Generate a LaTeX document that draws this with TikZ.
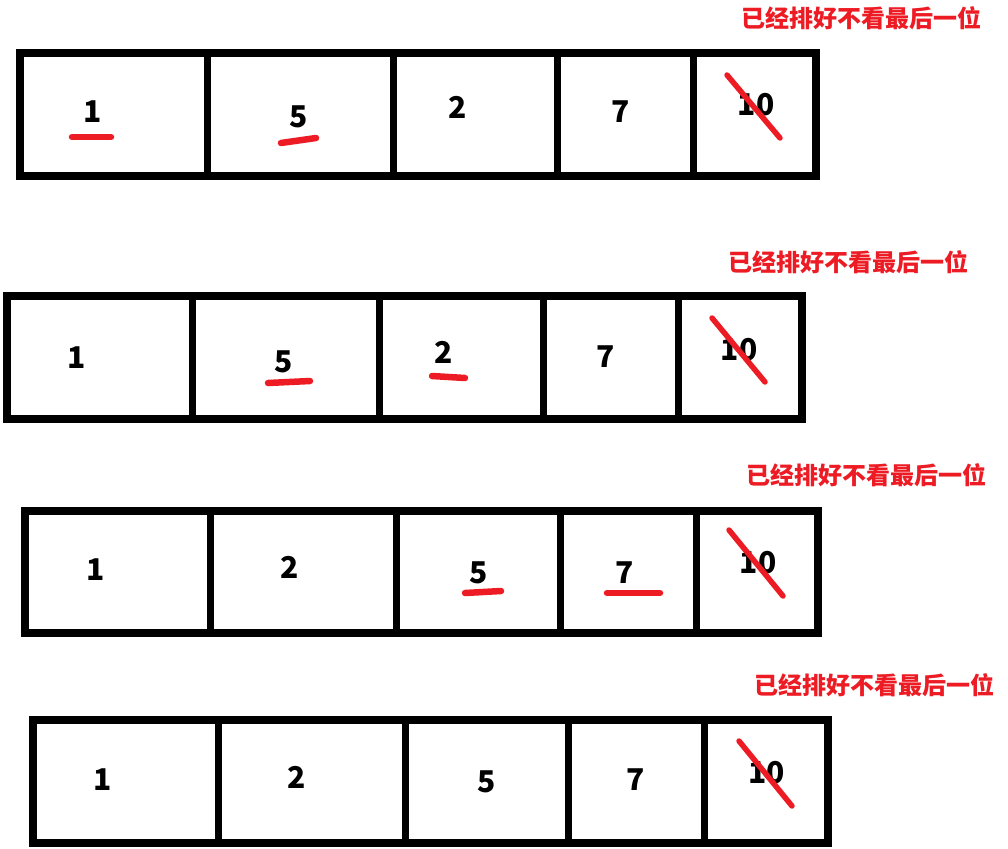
\documentclass[tikz,border=0pt]{standalone}
\usepackage{fontspec}
\setmainfont{Noto Sans CJK SC}
\definecolor{mkred}{RGB}{237,28,36}
\tikzset{
  frame/.style={line width=8pt, draw=black},
  divider/.style={line width=7pt, draw=black},
  num/.style={inner sep=0pt, font=\fontsize{30}{30}\selectfont\bfseries},
  note/.style={inner sep=0pt, text=mkred, font=\fontsize{24}{24}\selectfont\bfseries},
  redline/.style={line width=6.5pt, draw=mkred, line cap=round},
  crossline/.style={line width=5.5pt, draw=mkred, line cap=round}
}
\begin{document}
\begin{tikzpicture}[x=1pt,y=-1pt]
\useasboundingbox (0,0) rectangle (1008,848);
\fill[white] (0,0) rectangle (1008,848);

% ---------- Row 1 ----------
\node[note] (n1) at (861,18) {已经排好不看最后一位};
\draw[frame] (20,53) rectangle (816,176);
\foreach \x in {207.5,393,557,693} \draw[divider] (\x,53) -- (\x,179);
\node[num] (r1a) at (93,112) {1};
\node[num] (r1b) at (299,117) {5};
\node[num] (r1c) at (458,107) {2};
\node[num] (r1d) at (621,112) {7};
\node[num] (r1e) at (756,105) {10};
\draw[redline] (72,137) -- (111,137);
\draw[redline] (281,143) -- (316,138);
\draw[crossline] (727,75) -- (780,138);

% ---------- Row 2 ----------
\node[note] (n2) at (848,262) {已经排好不看最后一位};
\draw[frame] (6.5,296) rectangle (801.5,419);
\foreach \x in {192,379,543,678} \draw[divider] (\x,296) -- (\x,422);
\node[num] (r2a) at (77,358) {1};
\node[num] (r2b) at (284,362) {5};
\node[num] (r2c) at (444,352) {2};
\node[num] (r2d) at (606,357) {7};
\node[num] (r2e) at (739,350) {10};
\draw[redline] (268,383) -- (310,381);
\draw[redline] (432,376) -- (465,378);
\draw[crossline] (712,318) -- (765,382);

% ---------- Row 3 ----------
\node[note] (n3) at (866,475) {已经排好不看最后一位};
\draw[frame] (24.5,511) rectangle (818,633);
\foreach \x in {210,396.5,560,696} \draw[divider] (\x,511) -- (\x,636);
\node[num] (r3a) at (95.5,570) {1};
\node[num] (r3b) at (290,567) {2};
\node[num] (r3c) at (479,573) {5};
\node[num] (r3d) at (624.5,573) {7};
\node[num] (r3e) at (758,563) {10};
\draw[redline] (465,593) -- (501,591);
\draw[redline] (607,593) -- (660,593);
\draw[crossline] (729,530) -- (783,596);

% ---------- Row 4 ----------
\node[note] (n4) at (874,685) {已经排好不看最后一位};
\draw[frame] (32.5,720) rectangle (827.5,843);
\foreach \x in {218.5,405,568.5,704} \draw[divider] (\x,720) -- (\x,846);
\node[num] (r4a) at (103,780) {1};
\node[num] (r4b) at (297,777) {2};
\node[num] (r4c) at (487,782) {5};
\node[num] (r4d) at (635.5,780) {7};
\node[num] (r4e) at (766.5,773) {10};
\draw[crossline] (739,741) -- (792,806);
\end{tikzpicture}
\end{document}
